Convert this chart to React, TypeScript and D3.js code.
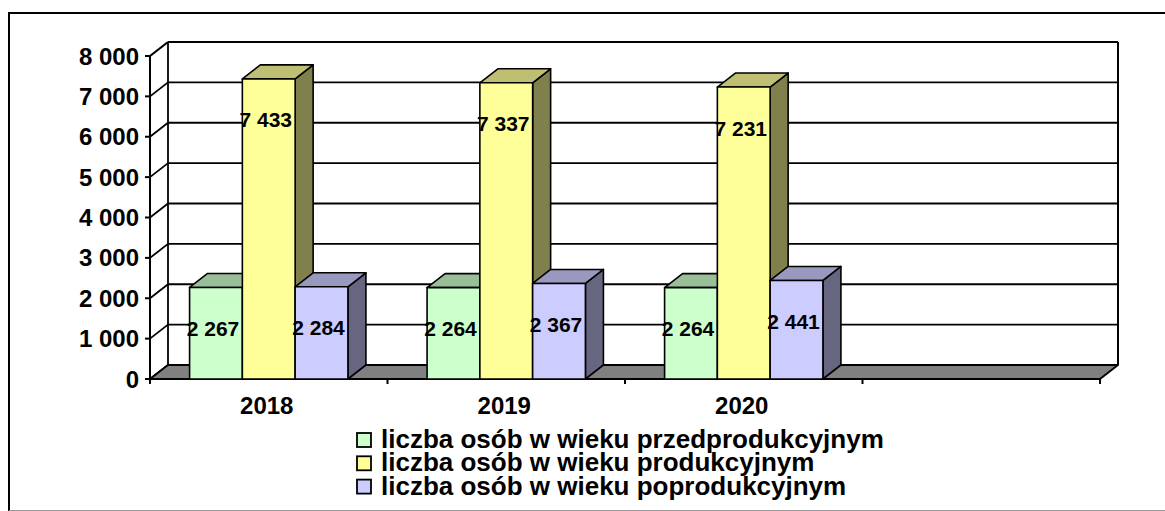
import React from "react";
import * as d3 from "d3";

const categories = ["2018", "2019", "2020", ""];
const seriesNames = [
  "liczba osób w wieku przedprodukcyjnym",
  "liczba osób w wieku produkcyjnym",
  "liczba osób w wieku poprodukcyjnym",
];
const przed = [2267, 2264, 2264];
const prod = [7433, 7337, 7231];
const popr = [2284, 2367, 2441];
const yTicks = [0, 1000, 2000, 3000, 4000, 5000, 6000, 7000, 8000];

const frontColors = ["#CCFFCC", "#FFFF99", "#CCCCFF"];
const topColors = ["#99BF99", "#BFBF73", "#9999BF"];
const sideColors = ["#668066", "#80804D", "#666680"];

const fmt = (v: number) => {
  const s = String(Math.round(v));
  return s.replace(/\B(?=(\d{3})+(?!\d))/g, " ");
};

export default function App() {
  const W = 1165, H = 511;
  const x0 = 150, x1 = 1100, yBase = 379, yTop = 56;
  const DX = 18, DY = -14;
  const x = d3.scaleBand<string>().domain(categories.map((c, i) => c + "#" + i)).range([x0, x1]).padding(0);
  const y = d3.scaleLinear().domain([0, 8000]).range([yBase, yTop]);
  const inner = d3.scaleBand<number>().domain([0, 1, 2]).range([0, x.bandwidth()]).paddingInner(0).paddingOuter(0.75);
  const series = [przed, prod, popr];
  const font = "'Liberation Sans', Arial, sans-serif";

  const bars: React.ReactNode[] = [];
  const labels: React.ReactNode[] = [];
  categories.forEach((c, ci) => {
    series.forEach((vals, si) => {
      const v = vals[ci];
      if (v === undefined) return;
      const bx = (x(c + "#" + ci) as number) + (inner(si) as number);
      const bw = inner.bandwidth();
      const ty = y(v);
      const front = `M${bx},${yBase}L${bx},${ty}L${bx + bw},${ty}L${bx + bw},${yBase}Z`;
      const top = `M${bx},${ty}L${bx + DX},${ty + DY}L${bx + bw + DX},${ty + DY}L${bx + bw},${ty}Z`;
      const side = `M${bx + bw},${ty}L${bx + bw + DX},${ty + DY}L${bx + bw + DX},${yBase + DY}L${bx + bw},${yBase}Z`;
      bars.push(
        <g key={`b${ci}-${si}`} stroke="#000" strokeWidth={1.6} strokeLinejoin="round">
          <path d={side} fill={sideColors[si]} />
          <path d={top} fill={topColors[si]} />
          <path d={front} fill={frontColors[si]} />
        </g>
      );
      labels.push(
        <text key={`l${ci}-${si}`} x={bx + bw / 2 - 3} y={ty + 41} textAnchor="middle" dominantBaseline="central"
          fontFamily={font} fontWeight="bold" fontSize={21} fill="#000">{fmt(v)}</text>
      );
    });
  });

  const bounds = [x0, ...categories.map((c, i) => (x(c + "#" + i) as number) + x.bandwidth())];

  return (
    <svg width={W} height={H} style={{ position: "absolute", left: 0, top: 0, background: "#fff" }}>
      {/* outer frame */}
      <line x1={9} y1={13} x2={1165} y2={13} stroke="#000" strokeWidth={2} />
      <line x1={9} y1={12} x2={9} y2={511} stroke="#000" strokeWidth={2} />
      <line x1={9} y1={510.5} x2={1165} y2={510.5} stroke="#999" strokeWidth={1} />

      {/* back wall gridlines */}
      {yTicks.map((t) => (
        <g key={`g${t}`} stroke="#000" strokeWidth={t === 8000 ? 2.2 : 1.8}>
          {t > 0 && <line x1={x0 + DX} y1={y(t) + DY} x2={x1 + DX} y2={y(t) + DY} />}
          <line x1={x0} y1={y(t)} x2={x0 + DX} y2={y(t) + DY} />
        </g>
      ))}
      <line x1={x0 + DX} y1={y(8000) + DY} x2={x0 + DX} y2={yBase + DY} stroke="#000" strokeWidth={1.8} />
      <line x1={x1 + DX} y1={y(8000) + DY} x2={x1 + DX} y2={yBase + DY} stroke="#000" strokeWidth={2} />

      {/* floor */}
      <path d={`M${x0},${yBase}L${x1},${yBase}L${x1 + DX},${yBase + DY}L${x0 + DX},${yBase + DY}Z`}
        fill="#808080" stroke="#000" strokeWidth={1.8} strokeLinejoin="round" />

      {/* value axis */}
      <line x1={x0} y1={y(8000)} x2={x0} y2={yBase} stroke="#000" strokeWidth={2} />
      {yTicks.map((t) => (
        <g key={`yt${t}`}>
          <line x1={x0 - 5} y1={y(t)} x2={x0} y2={y(t)} stroke="#000" strokeWidth={2} />
          <text x={139} y={y(t)} textAnchor="end" dominantBaseline="central" fontFamily={font}
            fontWeight="bold" fontSize={24} fill="#000">{fmt(t)}</text>
        </g>
      ))}

      {/* category axis */}
      <line x1={x0} y1={yBase} x2={x1} y2={yBase} stroke="#000" strokeWidth={2} />
      {bounds.map((b, i) => (
        <line key={`ct${i}`} x1={b} y1={yBase} x2={b} y2={yBase + 5} stroke="#000" strokeWidth={2} />
      ))}
      {categories.map((c, i) => (
        <text key={`c${i}`} x={(x(c + "#" + i) as number) + x.bandwidth() / 2 - 2} y={414} textAnchor="middle"
          fontFamily={font} fontWeight="bold" fontSize={24} fill="#000">{c}</text>
      ))}

      {bars}
      {labels}

      {/* legend */}
      {seriesNames.map((n, i) => (
        <g key={`lg${i}`}>
          <rect x={357} y={433 + i * 23.3} width={14} height={14} fill={frontColors[i]} stroke="#000" strokeWidth={1.8} />
          <text x={381} y={448 + i * 23.3} fontFamily={font} fontWeight="bold" fontSize={26} fill="#000">{n}</text>
        </g>
      ))}
    </svg>
  );
}
